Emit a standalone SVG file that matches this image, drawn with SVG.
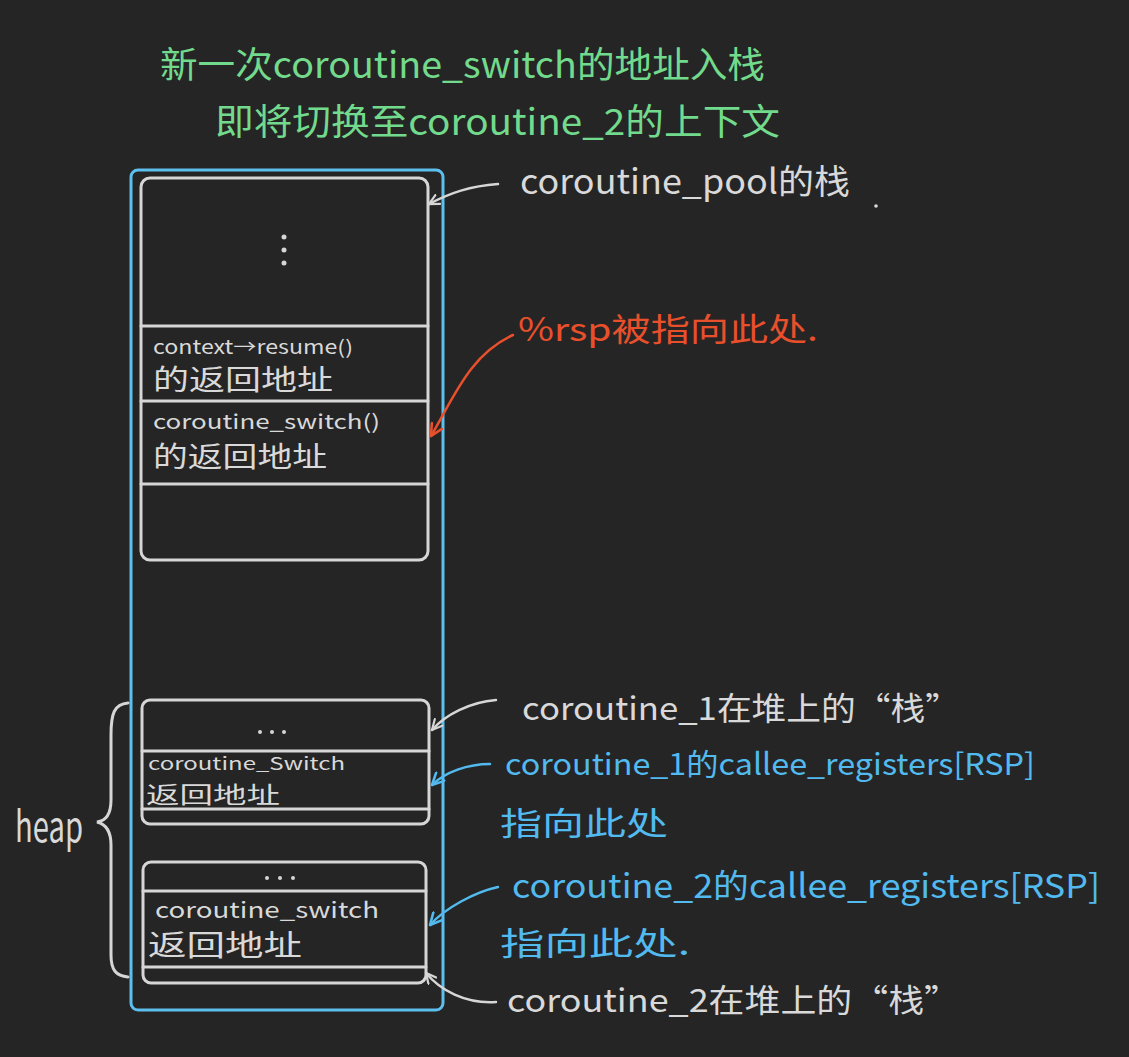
<svg xmlns="http://www.w3.org/2000/svg" width="1129" height="1057" viewBox="0 0 1129 1057">
<defs>
<style>
.g{fill:none;stroke:#d6d6d6;stroke-width:3;stroke-linecap:round}
.bl{fill:none;stroke:#5cbfee;stroke-width:3;stroke-linecap:round}
.t{font-family:"Noto Sans CJK SC","Noto Sans",sans-serif}
.wt{fill:#d9d9d9}
.gt{fill:#72da8c}
.bt{fill:#52baee}
.rt{fill:#e8502c}
.ag{fill:none;stroke:#d6d6d6;stroke-width:2.5;stroke-linecap:round}
.ab{fill:none;stroke:#52baee;stroke-width:2.5;stroke-linecap:round}
.ar{fill:none;stroke:#e8502c;stroke-width:2.5;stroke-linecap:round}
</style>
<marker id="mg" viewBox="0 0 12 12" refX="11" refY="6" markerWidth="12" markerHeight="12" markerUnits="userSpaceOnUse" orient="auto"><path d="M1,1 L11,6 L1,11" fill="none" stroke="#d6d6d6" stroke-width="2.2" stroke-linecap="round"/></marker>
<marker id="mb" viewBox="0 0 12 12" refX="11" refY="6" markerWidth="14" markerHeight="14" markerUnits="userSpaceOnUse" orient="auto"><path d="M1,1 L11,6 L1,11" fill="none" stroke="#52baee" stroke-width="2.2" stroke-linecap="round"/></marker>
<marker id="mr" viewBox="0 0 12 12" refX="11" refY="6" markerWidth="14" markerHeight="14" markerUnits="userSpaceOnUse" orient="auto"><path d="M1,1 L11,6 L1,11" fill="none" stroke="#e8502c" stroke-width="2.2" stroke-linecap="round"/></marker>
</defs>
<rect width="1129" height="1057" fill="#252525"/>

<g id="title">
<text class="t gt" x="160" y="78" font-size="36" textLength="605" lengthAdjust="spacingAndGlyphs">新一次coroutine_switch的地址入栈</text>
<text class="t gt" x="215" y="135" font-size="36" textLength="565" lengthAdjust="spacingAndGlyphs">即将切换至coroutine_2的上下文</text>
</g>

<g id="outer-frame">
<rect class="bl" x="131" y="170" width="312" height="840" rx="7"/>
</g>

<g id="pool-stack">
<rect class="g" x="141" y="178" width="287" height="382" rx="9"/>
<line class="g" x1="141" y1="326" x2="428" y2="326"/>
<line class="g" x1="141" y1="401" x2="428" y2="401"/>
<line class="g" x1="141" y1="484" x2="428" y2="484"/>
<circle cx="284" cy="237" r="2.5" fill="#d6d6d6"/>
<circle cx="284" cy="250" r="2.5" fill="#d6d6d6"/>
<circle cx="284" cy="263" r="2.5" fill="#d6d6d6"/>
<text class="t wt" x="153" y="354" font-size="19" textLength="200" lengthAdjust="spacingAndGlyphs">context→resume()</text>
<text class="t wt" x="153" y="390" font-size="28" textLength="180" lengthAdjust="spacingAndGlyphs">的返回地址</text>
<text class="t wt" x="153" y="429" font-size="20" textLength="227" lengthAdjust="spacingAndGlyphs">coroutine_switch()</text>
<text class="t wt" x="153" y="467" font-size="28" textLength="174" lengthAdjust="spacingAndGlyphs">的返回地址</text>
</g>

<g id="heap-stack-1">
<rect class="g" x="142" y="700" width="287" height="124" rx="8"/>
<line class="g" x1="142" y1="751" x2="429" y2="751"/>
<line class="g" x1="142" y1="809" x2="429" y2="809"/>
<circle cx="260" cy="732" r="2" fill="#d6d6d6"/>
<circle cx="272" cy="732" r="2" fill="#d6d6d6"/>
<circle cx="284" cy="732" r="2" fill="#d6d6d6"/>
<text class="t wt" x="148" y="770" font-size="17" textLength="197" lengthAdjust="spacingAndGlyphs">coroutine_Switch</text>
<text class="t wt" x="146" y="803" font-size="23" textLength="134" lengthAdjust="spacingAndGlyphs">返回地址</text>
</g>

<g id="heap-stack-2">
<rect class="g" x="143" y="862" width="283" height="121" rx="8"/>
<line class="g" x1="143" y1="891" x2="426" y2="891"/>
<line class="g" x1="143" y1="967" x2="426" y2="967"/>
<circle cx="267" cy="878" r="2" fill="#d6d6d6"/>
<circle cx="280" cy="878" r="2" fill="#d6d6d6"/>
<circle cx="293" cy="878" r="2" fill="#d6d6d6"/>
<text class="t wt" x="155" y="918" font-size="22" textLength="224" lengthAdjust="spacingAndGlyphs">coroutine_switch</text>
<text class="t wt" x="148" y="956" font-size="29" textLength="154" lengthAdjust="spacingAndGlyphs">返回地址</text>
</g>

<g id="heap-label">
<path class="g" d="M128,703 C114,704 111,714 111,735 L111,800 C111,815 105,821 97,822 C105,824 111,830 111,845 L111,955 C111,970 116,976 128,977"/>
<text class="t wt" x="15" y="842" font-size="42" textLength="68" lengthAdjust="spacingAndGlyphs">heap</text>
</g>

<g id="labels">
<text class="t wt" x="520" y="194" font-size="34" textLength="330" lengthAdjust="spacingAndGlyphs">coroutine_pool的栈</text>
<circle cx="876" cy="206" r="1.8" fill="#d9d9d9"/>
<text class="t rt" x="518" y="341" font-size="32" textLength="300" lengthAdjust="spacingAndGlyphs">%rsp被指向此处.</text>
<text class="t wt" x="522" y="720" font-size="32" textLength="438" lengthAdjust="spacingAndGlyphs">coroutine_1在堆上的“栈”</text>
<text class="t bt" x="505" y="775" font-size="30" textLength="530" lengthAdjust="spacingAndGlyphs">coroutine_1的callee_registers[RSP]</text>
<text class="t bt" x="500" y="835" font-size="32" textLength="168" lengthAdjust="spacingAndGlyphs">指向此处</text>
<text class="t bt" x="512" y="898" font-size="33" textLength="588" lengthAdjust="spacingAndGlyphs">coroutine_2的callee_registers[RSP]</text>
<text class="t bt" x="500" y="955" font-size="32" textLength="190" lengthAdjust="spacingAndGlyphs">指向此处.</text>
<text class="t wt" x="507" y="1012" font-size="32" textLength="453" lengthAdjust="spacingAndGlyphs">coroutine_2在堆上的“栈”</text>
</g>

<g id="connectors">
<path class="ag" d="M498,184 C470,186 450,193 429,204" marker-end="url(#mg)"/>
<path class="ar" d="M513,335 C470,355 455,395 431,436" marker-end="url(#mr)"/>
<path class="ag" d="M496,700 C470,702 445,715 432,730" marker-end="url(#mg)"/>
<path class="ab" d="M490,764 C468,764 445,772 432,785" marker-end="url(#mb)"/>
<path class="ab" d="M498,887 C475,892 445,908 430,925" marker-end="url(#mb)"/>
<path class="ag" d="M496,1002 C465,1004 440,990 426,973" marker-end="url(#mg)"/>
</g>
</svg>
